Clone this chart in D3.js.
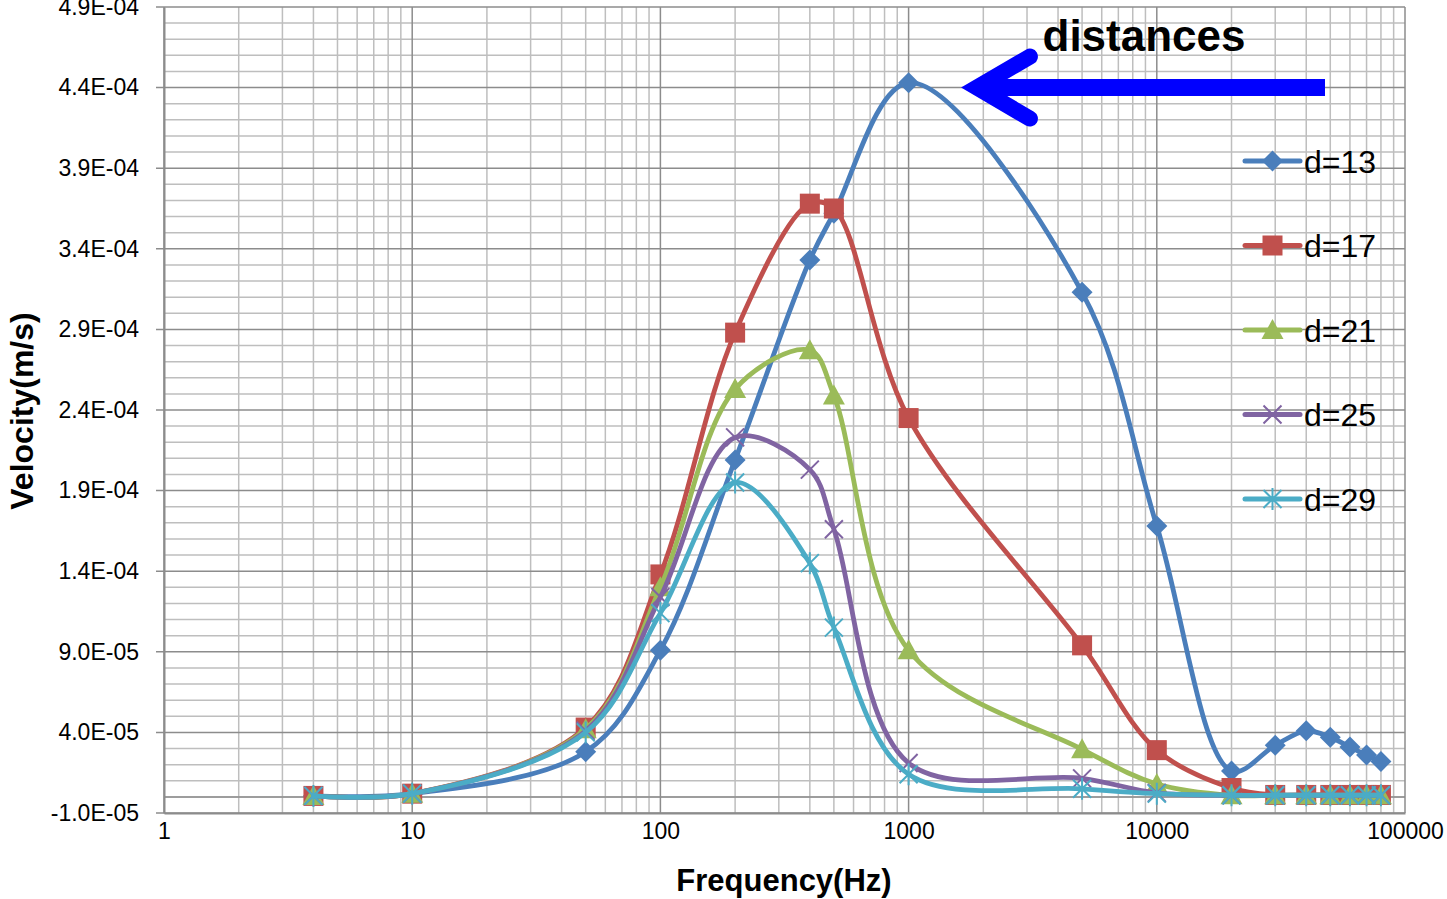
<!DOCTYPE html>
<html>
<head>
<meta charset="utf-8">
<script src="https://cdn.jsdelivr.net/npm/d3@7"></script>
<style>
  body { margin: 0; background: #fff; }
  svg { display: block; font-family: "Liberation Sans", Arial, sans-serif; }
</style>
</head>
<body>
<svg id="chart" width="1447" height="899"></svg>
<script>
// Frequency sweep (Hz) shared by every distance series
const frequencies = [4, 10, 50, 100, 200, 400, 500, 1000, 5000, 10000, 20000, 30000, 40000, 50000, 60000, 70000, 80000];

// Peak particle velocity (m/s) for each distance
const d13 = [0.6e-6, 2e-6, 2.8e-5, 9.1e-5, 2.09e-4, 3.33e-4, 3.62e-4, 4.43e-4, 3.13e-4, 1.68e-4, 1.6e-5, 3.2e-5, 4.1e-5, 3.7e-5, 3.1e-5, 2.6e-5, 2.2e-5];
const d17 = [0.6e-6, 2e-6, 4.3e-5, 1.38e-4, 2.88e-4, 3.68e-4, 3.65e-4, 2.35e-4, 9.4e-5, 2.9e-5, 5.5e-6, 1.2e-6, 1.2e-6, 1.2e-6, 1.2e-6, 1.2e-6, 1.2e-6];
const d21 = [0.6e-6, 2e-6, 4.2e-5, 1.30e-4, 2.53e-4, 2.77e-4, 2.49e-4, 9.1e-5, 2.95e-5, 8e-6, 1e-6, 1e-6, 1e-6, 1e-6, 1e-6, 1e-6, 1e-6];
const d25 = [0.6e-6, 2e-6, 4.1e-5, 1.24e-4, 2.23e-4, 2.03e-4, 1.66e-4, 2.1e-5, 1.15e-5, 2.5e-6, 1e-6, 1e-6, 1e-6, 1e-6, 1e-6, 1e-6, 1e-6];
const d29 = [0.6e-6, 2e-6, 4.0e-5, 1.14e-4, 1.95e-4, 1.45e-4, 1.05e-4, 1.4e-5, 5e-6, 2e-6, 1e-6, 1e-6, 1e-6, 1e-6, 1e-6, 1e-6, 1e-6];

const seriesNames = ["d=13", "d=17", "d=21", "d=25", "d=29"];
const seriesValues = [d13, d17, d21, d25, d29];
const seriesColors = ["#4A7EBB", "#C0504D", "#9BBB59", "#8064A2", "#4BACC6"];
const seriesMarkers = ["diamond", "square", "triangle", "x", "star"];

// Axis ticks
const xTicks = [1, 10, 100, 1000, 10000, 100000];
const yTicks = [-1.0e-5, 4.0e-5, 9.0e-5, 1.4e-4, 1.9e-4, 2.4e-4, 2.9e-4, 3.4e-4, 3.9e-4, 4.4e-4, 4.9e-4];
const yMinorStep = 1e-5;

const xTitle = "Frequency(Hz)";
const yTitle = "Velocity(m/s)";
const noteText = "distances";

const svg = d3.select("#chart");
const plot = { left: 164, right: 1405, top: 7, bottom: 813 };

const x = d3.scaleLog().domain([1, 100000]).range([plot.left, plot.right]);
const y = d3.scaleLinear().domain([-1.0e-5, 4.9e-4]).range([plot.bottom, plot.top]);

// Scientific label like 4.4E-04
function sci(v) {
  const [m, e] = v.toExponential(1).split("e");
  const n = parseInt(e, 10);
  const sign = n < 0 ? "-" : "+";
  return m + "E" + sign + String(Math.abs(n)).padStart(2, "0");
}

// ---- grid ----
const grid = svg.append("g");
const minorX = [];
for (let k = 0; k < 5; k++) for (let m = 2; m <= 9; m++) minorX.push(m * Math.pow(10, k));
grid.selectAll("line.vminor").data(minorX).join("line")
  .attr("x1", d => x(d)).attr("x2", d => x(d))
  .attr("y1", plot.top).attr("y2", plot.bottom)
  .attr("stroke", "#BEBEBE").attr("stroke-width", 1.5);

const minorY = d3.range(0, 51).map(i => -1e-5 + i * yMinorStep).filter((d, i) => i % 5 !== 0);
grid.selectAll("line.hminor").data(minorY).join("line")
  .attr("x1", plot.left).attr("x2", plot.right)
  .attr("y1", d => y(d)).attr("y2", d => y(d))
  .attr("stroke", "#BEBEBE").attr("stroke-width", 1.5);

grid.selectAll("line.vmajor").data(xTicks).join("line")
  .attr("x1", d => x(d)).attr("x2", d => x(d))
  .attr("y1", plot.top).attr("y2", plot.bottom)
  .attr("stroke", "#8C8C8C").attr("stroke-width", 1.5);

grid.selectAll("line.hmajor").data(yTicks).join("line")
  .attr("x1", plot.left - 8).attr("x2", plot.right)
  .attr("y1", d => y(d)).attr("y2", d => y(d))
  .attr("stroke", "#8C8C8C").attr("stroke-width", 1.5);

// horizontal axis line crossing at zero
grid.append("line")
  .attr("x1", plot.left).attr("x2", plot.right)
  .attr("y1", y(0)).attr("y2", y(0))
  .attr("stroke", "#8C8C8C").attr("stroke-width", 1.5);

// ---- axes labels ----
const yAxis = d3.axisLeft(y).tickValues(yTicks).tickFormat(sci).tickSize(0).tickPadding(25);
const gy = svg.append("g").attr("transform", `translate(${plot.left},0)`).call(yAxis);
gy.select(".domain").attr("stroke", "#8C8C8C").attr("stroke-width", 2);
gy.selectAll("text").attr("font-size", 23).attr("fill", "#000")
  .attr("font-family", "Liberation Sans, Arial, sans-serif");

const xAxis = d3.axisBottom(x).tickValues(xTicks).tickFormat(d3.format("d")).tickSize(0).tickPadding(10);
const gx = svg.append("g").attr("transform", `translate(0,${plot.bottom})`).call(xAxis);
gx.select(".domain").attr("stroke", "#8C8C8C").attr("stroke-width", 2);
gx.selectAll("text").attr("font-size", 23).attr("fill", "#000")
  .attr("font-family", "Liberation Sans, Arial, sans-serif");

svg.append("text")
  .attr("x", 784).attr("y", 891)
  .attr("text-anchor", "middle").attr("font-size", 31).attr("font-weight", "bold")
  .text(xTitle);

svg.append("text")
  .attr("transform", `translate(33,411) rotate(-90)`)
  .attr("text-anchor", "middle").attr("font-size", 32).attr("font-weight", "bold")
  .text(yTitle);

// ---- markers ----
function drawMarker(g, type, color) {
  if (type === "diamond") {
    g.append("path").attr("d", "M0,-10.5L10.5,0L0,10.5L-10.5,0Z").attr("fill", color);
  } else if (type === "square") {
    g.append("rect").attr("x", -10).attr("y", -10).attr("width", 20).attr("height", 20).attr("fill", color);
  } else if (type === "triangle") {
    g.append("path").attr("d", "M0,-11L11,9L-11,9Z").attr("fill", color);
  } else if (type === "x") {
    g.append("path").attr("d", "M-9,-9L9,9M-9,9L9,-9").attr("stroke", color).attr("stroke-width", 2).attr("fill", "none");
  } else if (type === "star") {
    g.append("path").attr("d", "M-9,-9L9,9M-9,9L9,-9M0,-11L0,11").attr("stroke", color).attr("stroke-width", 2).attr("fill", "none");
  }
}

// ---- series ----
const line = d3.line()
  .x(d => x(d[0])).y(d => y(d[1]))
  .curve(d3.curveCatmullRom.alpha(0.5));

seriesValues.forEach((vals, i) => {
  const pts = frequencies.map((f, j) => [f, vals[j]]);
  const g = svg.append("g");
  g.append("path").datum(pts).attr("d", line)
    .attr("fill", "none").attr("stroke", seriesColors[i])
    .attr("stroke-width", 4.8).attr("stroke-linejoin", "round").attr("stroke-linecap", "round");
  g.selectAll("g.mk").data(pts).join("g")
    .attr("transform", d => `translate(${x(d[0])},${y(d[1])})`)
    .each(function () { drawMarker(d3.select(this), seriesMarkers[i], seriesColors[i]); });
});

// ---- legend ----
const legend = svg.append("g");
seriesNames.forEach((name, i) => {
  const ly = 161 + i * 84.5;
  const g = legend.append("g").attr("transform", `translate(1245,${ly})`);
  g.append("line").attr("x1", 0).attr("x2", 55).attr("y1", 0).attr("y2", 0)
    .attr("stroke", seriesColors[i]).attr("stroke-width", 5).attr("stroke-linecap", "round");
  const m = g.append("g").attr("transform", "translate(27.5,0)");
  drawMarker(m, seriesMarkers[i], seriesColors[i]);
  g.append("text").attr("x", 59).attr("y", 0).attr("dy", "0.36em")
    .attr("font-size", 32).attr("fill", "#000").text(name);
});

// ---- annotation: arrow pointing at the peaks ----
const tipX = x(1580), tipY = y(4.4e-4);
const note = svg.append("g");
note.append("line")
  .attr("x1", tipX + 20).attr("x2", 1325).attr("y1", tipY).attr("y2", tipY)
  .attr("stroke", "#0000FF").attr("stroke-width", 17);
note.append("path")
  .attr("d", `M${tipX + 72},${tipY - 31}L${tipX + 19},${tipY}L${tipX + 72},${tipY + 31}`)
  .attr("fill", "none").attr("stroke", "#0000FF").attr("stroke-width", 16)
  .attr("stroke-linecap", "round").attr("stroke-linejoin", "miter").attr("stroke-miterlimit", 10);
note.append("text")
  .attr("x", 1144).attr("y", 51).attr("text-anchor", "middle")
  .attr("font-size", 44).attr("font-weight", "bold").attr("fill", "#000")
  .text(noteText);
</script>
</body>
</html>
